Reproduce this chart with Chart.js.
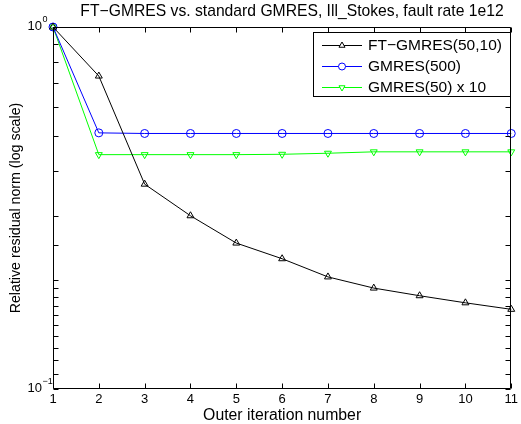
<!DOCTYPE html>
<html><head><meta charset="utf-8">
<script src="https://cdn.jsdelivr.net/npm/chart.js@4"></script>
<style>html,body{margin:0;padding:0;background:#fff}</style>
</head><body>
<canvas id="c" width="521" height="424"></canvas>
<script>
const iterations = [1,2,3,4,5,6,7,8,9,10,11];
const ftGmres    = [1,0.732,0.368,0.301,0.253,0.229,0.204,0.190,0.181,0.173,0.166];
const gmres500   = [1,0.510,0.508,0.508,0.508,0.508,0.508,0.508,0.508,0.508,0.508];
const gmres50x10 = [1,0.444,0.444,0.444,0.444,0.445,0.448,0.452,0.452,0.452,0.452];
const seriesNames = ['FT\u2212GMRES(50,10)','GMRES(500)','GMRES(50) x 10'];
const yMajorLabels = [{v:1, base:'10', exp:'0'}, {v:0.1, base:'10', exp:'\u22121'}];
const titleText = 'FT\u2212GMRES vs. standard GMRES, Ill_Stokes, fault rate 1e12';
const xTitle = 'Outer iteration number';
const yTitle = 'Relative residual norm (log scale)';

const FONT = '"Liberation Sans", Arial, Helvetica, sans-serif';

const boxPlugin = {
  id:'box',
  afterDatasetsDraw(chart){
    const ctx=chart.ctx, a=chart.chartArea, xs=chart.scales.x, ys=chart.scales.y;
    ctx.save();
    // title
    ctx.fillStyle='#000'; ctx.font='15.7px '+FONT; ctx.textAlign='center'; ctx.textBaseline='middle';
    ctx.fillText(titleText, 292, 12);
    ctx.strokeStyle='#000'; ctx.lineWidth=1;
    ctx.beginPath();
    const L=Math.round(a.left)+0.5, R=Math.round(a.right)-0.5, T=Math.round(a.top)+0.5, B=Math.round(a.bottom)-0.5;
    ctx.rect(L,T,R-L,B-T); ctx.stroke();
    const tl=5;
    ctx.beginPath();
    xs.ticks.forEach(t=>{
      const px=Math.round(xs.getPixelForValue(t.value))+0.5;
      ctx.moveTo(px,B); ctx.lineTo(px,B-tl);
      ctx.moveTo(px,T); ctx.lineTo(px,T+tl);
    });
    ys.ticks.forEach(t=>{
      const py=Math.round(ys.getPixelForValue(t.value))+0.5;
      ctx.moveTo(L,py); ctx.lineTo(L+tl,py);
      ctx.moveTo(R,py); ctx.lineTo(R-tl,py);
    });
    ctx.stroke();
    // y labels with superscripts
    ctx.fillStyle='#000';
    yMajorLabels.forEach(l=>{
      const py=ys.getPixelForValue(l.v);
      ctx.font='13px '+FONT;
      ctx.textBaseline='middle'; ctx.textAlign='right';
      ctx.fillText(l.base, a.left-11, py-1);
      ctx.font='9px '+FONT; ctx.textAlign='left';
      ctx.fillText(l.exp, a.left-10.5, py-7);
    });
    // legend
    const lx=313, ly=32, lw=197, lh=64;
    ctx.fillStyle='#fff'; ctx.fillRect(lx,ly,lw,lh);
    ctx.strokeStyle='#000'; ctx.lineWidth=1;
    ctx.strokeRect(lx+0.5,ly+0.5,lw,lh);
    const rows=[45,66,87];
    chart.data.datasets.forEach((d,i)=>{
      const y=rows[i]+0.5;
      ctx.strokeStyle=d.borderColor; ctx.lineWidth=d.borderWidth;
      ctx.beginPath(); ctx.moveTo(322,y); ctx.lineTo(362,y); ctx.stroke();
      ctx.fillStyle='#fff'; ctx.strokeStyle=d.borderColor;
      Chart.helpers.drawPoint(ctx,{pointStyle:d.pointStyle,rotation:d.pointRotation||0,radius:3.5,borderWidth:1},342,y);
      ctx.fillStyle='#000'; ctx.font='15.5px '+FONT; ctx.textAlign='left'; ctx.textBaseline='middle';
      ctx.fillText(d.label,368,y+0.5);
    });
    ctx.restore();
  }
};

const ds=(label,data,color,style,rot)=>({
  label, data: iterations.map((x,i)=>({x, y:data[i]})),
  borderColor:color, backgroundColor:'rgba(0,0,0,0)', borderWidth:1,
  pointStyle:style, pointRotation:rot, pointRadius:4, pointBorderColor:color,
  pointBackgroundColor:'rgba(0,0,0,0)', pointBorderWidth:1, tension:0, clip:false
});

new Chart(document.getElementById('c'),{
  type:'line',
  data:{datasets:[
    ds(seriesNames[0], ftGmres, '#000000','triangle',0),
    ds(seriesNames[1], gmres500, '#0000ff','circle',0),
    ds(seriesNames[2], gmres50x10, '#00ff00','triangle',180)
  ]},
  options:{
    responsive:false, animation:false, devicePixelRatio:1,
    layout:{padding:{left:0,right:8,top:27,bottom:0}},
    plugins:{ legend:{display:false}, tooltip:{enabled:false}, title:{display:false} },
    scales:{
      x:{type:'linear',min:1,max:11,
        ticks:{stepSize:1,color:'#000',font:{family:FONT,size:13},padding:3,maxRotation:0},
        grid:{display:false,drawTicks:false}, border:{display:false},
        title:{display:true,text:xTitle,color:'#000',font:{family:FONT,size:15.8},padding:{top:0,bottom:-1}},
        afterFit(s){s.height=35;}
      },
      y:{type:'logarithmic',min:0.1,max:1,
        ticks:{display:false},
        grid:{display:false,drawTicks:false}, border:{display:false},
        title:{display:true,text:yTitle,color:'#000',font:{family:FONT,size:14.2},padding:{top:8,bottom:0}},
        afterFit(s){s.width=53;}
      }
    }
  },
  plugins:[boxPlugin]
});
</script>
</body></html>
